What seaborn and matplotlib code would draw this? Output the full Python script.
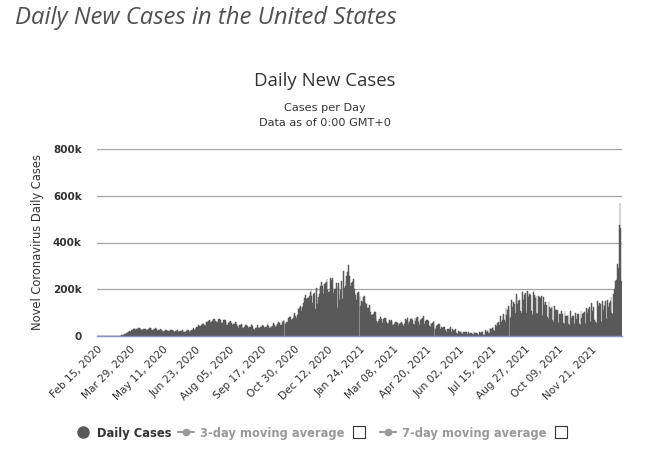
import numpy as np
import pandas as pd
import seaborn as sns
import matplotlib.pyplot as plt
from matplotlib.lines import Line2D

START_DATE = "2020-02-15"

# daily new cases in thousands, one row per week (Sat .. Fri)
cases_spring_2020 = [
    0, 0, 0, 0, 0, 0, 0,
    0, 0, 0, 0, 0, 0, 0,
    0, 0, 0, 0, 0, 0, 0.1,
    0.1, 0.1, 0.2, 0.3, 0.4, 0.5, 0.7,
    0.9, 0.8, 1.7, 2.5, 3.4, 5.3, 6.4,
    7.5, 9.5, 10.5, 11, 13, 17, 19,
    20, 19, 22, 26, 27, 30, 32,
    33, 26, 29, 31, 31, 33, 33,
    30, 28, 26, 25, 29, 31, 32,
    32, 27, 26, 26, 29, 33, 34,
    33, 27, 24, 25, 28, 30, 33,
    30, 25, 23, 24, 24, 29, 27,
    26, 20, 19, 21, 21, 27, 27,
    24, 20, 21, 21, 22, 26, 24,
    24, 20, 17, 19, 20, 22, 24,
    24, 19, 20, 21, 20, 22, 25,
    21, 17, 17, 19, 21, 23, 25,
]
cases_summer_2020 = [
    25, 18, 19, 23, 26, 27, 32,
    33, 26, 31, 34, 38, 40, 45,
    42, 39, 41, 47, 51, 57, 52,
    45, 42, 50, 60, 62, 63, 68,
    62, 58, 59, 65, 69, 74, 71,
    65, 61, 60, 62, 72, 73, 73,
    67, 55, 56, 61, 69, 70, 67,
    58, 46, 47, 54, 54, 59, 64,
    55, 46, 45, 51, 53, 60, 59,
    52, 41, 36, 44, 46, 47, 50,
    45, 36, 34, 37, 44, 45, 49,
    43, 34, 33, 40, 39, 45, 50,
    44, 32, 26, 25, 34, 36, 47,
    40, 35, 34, 40, 38, 43, 48,
    42, 36, 37, 40, 40, 45, 54,
    44, 33, 33, 43, 39, 44, 55,
]
cases_winter_2020 = [
    48, 36, 38, 43, 50, 57, 58,
    54, 45, 42, 49, 58, 66, 69,
    55, 50, 59, 61, 62, 76, 82,
    83, 62, 68, 74, 78, 92, 99,
    87, 78, 89, 95, 115, 121, 127,
    125, 106, 122, 143, 143, 161, 177,
    157, 136, 161, 163, 171, 187, 196,
    173, 142, 179, 178, 186, 115, 205,
    152, 138, 166, 181, 207, 216, 229,
    212, 179, 196, 222, 225, 230, 245,
    197, 187, 190, 205, 246, 239, 248,
    194, 183, 203, 200, 228, 210, 120,
    226, 155, 177, 195, 235, 160, 158,
    277, 205, 212, 234, 255, 275, 304,
    258, 214, 215, 228, 230, 236, 245,
    201, 177, 142, 152, 184, 190, 189,
    171, 130, 150, 147, 157, 167, 170,
    143, 112, 136, 121, 121, 122, 133,
]
cases_spring_2021 = [
    102, 88, 90, 95, 95, 103, 104,
    85, 64, 55, 63, 69, 71, 81,
    72, 55, 56, 71, 75, 77, 77,
    62, 51, 54, 57, 67, 66, 68,
    60, 45, 46, 50, 57, 62, 61,
    56, 44, 55, 53, 57, 60, 61,
    50, 42, 52, 56, 73, 68, 79,
    63, 50, 61, 71, 73, 75, 67,
    52, 45, 77, 64, 77, 80, 81,
    58, 48, 67, 72, 74, 79, 85,
    52, 44, 66, 67, 69, 67, 63,
    44, 38, 56, 53, 56, 60, 64,
    36, 30, 43, 45, 48, 52, 53,
    28, 23, 37, 33, 37, 37, 39,
    24, 19, 31, 27, 30, 32, 37,
    19, 15, 28, 22, 25, 27, 29,
    12, 10, 9, 20, 17, 17, 20,
    11, 9, 19, 14, 15, 17, 17,
    9, 7, 17, 10, 12, 14, 14,
    8, 6, 16, 12, 12, 14, 11,
    7, 6, 19, 12, 14, 16, 18,
    7, 5, 6, 27, 18, 18, 20,
]
cases_delta_2021 = [
    14, 12, 35, 28, 31, 34, 40,
    24, 20, 48, 40, 44, 54, 61,
    45, 38, 86, 61, 70, 84, 94,
    68, 60, 120, 89, 110, 127, 122,
    85, 76, 155, 125, 124, 145, 137,
    98, 88, 180, 138, 149, 155, 153,
    108, 98, 188, 158, 156, 175, 184,
    112, 100, 192, 167, 170, 181, 177,
    105, 92, 88, 190, 175, 163, 172,
    100, 92, 172, 150, 168, 161, 173,
    92, 84, 168, 131, 146, 147, 131,
    80, 72, 146, 122, 116, 121, 130,
    70, 62, 127, 103, 110, 113, 111,
    62, 55, 93, 96, 105, 97, 94,
    56, 50, 105, 85, 85, 87, 88,
    52, 46, 108, 71, 79, 86, 85,
]
cases_omicron_2021 = [
    50, 44, 100, 74, 95, 80, 93,
    52, 46, 105, 76, 93, 100, 103,
    58, 52, 118, 97, 110, 117, 125,
    58, 50, 140, 106, 126, 45, 69,
    62, 55, 148, 111, 128, 140, 136,
    66, 60, 150, 111, 131, 130, 151,
    72, 66, 155, 122, 141, 150, 165,
    100, 92, 180, 165, 200, 237, 240,
    240, 308, 291, 475, 570, 460, 237,
]

tick_labels = ["Feb 15, 2020", "Mar 29, 2020", "May 11, 2020", "Jun 23, 2020",
               "Aug 05, 2020", "Sep 17, 2020", "Oct 30, 2020", "Dec 12, 2020",
               "Jan 24, 2021", "Mar 08, 2021", "Apr 20, 2021", "Jun 02, 2021",
               "Jul 15, 2021", "Aug 27, 2021", "Oct 09, 2021", "Nov 21, 2021"]
y_ticks = [0, 200000, 400000, 600000, 800000]
y_tick_labels = ["0", "200k", "400k", "600k", "800k"]

BAR = "#595959"
TEXT = "#333333"

values = (cases_spring_2020 + cases_summer_2020 + cases_winter_2020
          + cases_spring_2021 + cases_delta_2021 + cases_omicron_2021)
dates = pd.date_range(START_DATE, periods=len(values), freq="D")
df = pd.DataFrame({"date": dates.strftime("%b %d, %Y"),
                   "cases": np.array(values) * 1000})

sns.set_style("white")
plt.rcParams["font.family"] = ["DejaVu Sans"]

fig = plt.figure(figsize=(6.5, 4.5), dpi=100)
ax = fig.add_axes([97 / 650, 1 - 336 / 450, 525 / 650, 187 / 450])

sns.barplot(data=df, x="date", y="cases", color=BAR, saturation=1,
            width=1.0, edgecolor=BAR, linewidth=0.35, errorbar=None, ax=ax)

ax.set_xlim(-0.5, len(df) - 0.5)
ax.set_ylim(0, 800000)

positions = [df.index[df["date"] == lab][0] for lab in tick_labels]
ax.set_xticks(positions)
ax.set_xticklabels(tick_labels, rotation=45, ha="right", va="top",
                   rotation_mode="anchor", fontsize=7.6, color=TEXT)
ax.set_yticks(y_ticks)
ax.set_yticklabels(y_tick_labels, fontsize=7.5, fontweight="bold", color=TEXT)
ax.tick_params(axis="x", length=0, pad=6)
ax.tick_params(axis="y", length=0, pad=11)

ax.set_xlabel("")
ax.set_ylabel("")
ax.yaxis.grid(True, color="#a3a3a3", linewidth=0.9)
ax.set_axisbelow(True)
for side in ["top", "right", "left"]:
    ax.spines[side].set_visible(False)
ax.spines["bottom"].set_color("#8791c6")
ax.spines["bottom"].set_linewidth(1.0)

fig.text(0.058, 0.463, "Novel Coronavirus Daily Cases", rotation=90,
         ha="center", va="center", fontsize=8.3, color=TEXT)

fig.text(15 / 650, 1 - 6 / 450, "Daily New Cases in the United States",
         family="Open Sans", style="italic", fontsize=17.2, color="#505050",
         ha="left", va="top")
fig.text(0.5, 1 - 81 / 450, "Daily New Cases", family="Open Sans",
         fontsize=13.4, color=TEXT, ha="center", va="center")
fig.text(0.5, 1 - 108 / 450, "Cases per Day", fontsize=8.1, color=TEXT,
         ha="center", va="center")
fig.text(0.5, 1 - 123 / 450, "Data as of 0:00 GMT+0", fontsize=8.1,
         color=TEXT, ha="center", va="center")

handles = [
    Line2D([], [], marker="o", ls="none", color=BAR, ms=8),
    Line2D([], [], marker="o", ls="-", color="#999999", ms=4.5, lw=1.5),
    Line2D([], [], marker="s", ls="none", mfc="white", mec="#333333", ms=9, mew=0.8),
    Line2D([], [], marker="o", ls="-", color="#999999", ms=4.5, lw=1.5),
    Line2D([], [], marker="s", ls="none", mfc="white", mec="#333333", ms=9, mew=0.8),
]
labels = ["Daily Cases", "3-day moving average", "", "7-day moving average", ""]
leg = fig.legend(handles, labels, loc="center", bbox_to_anchor=(0.5, 1 - 433 / 450),
                 ncol=5, frameon=False, handlelength=1.4, handletextpad=0.5,
                 columnspacing=0.6, prop={"weight": "bold", "size": 8.3})
for i, t in enumerate(leg.get_texts()):
    t.set_color(TEXT if i == 0 else "#999999")

fig.savefig("out.png", dpi=100)
